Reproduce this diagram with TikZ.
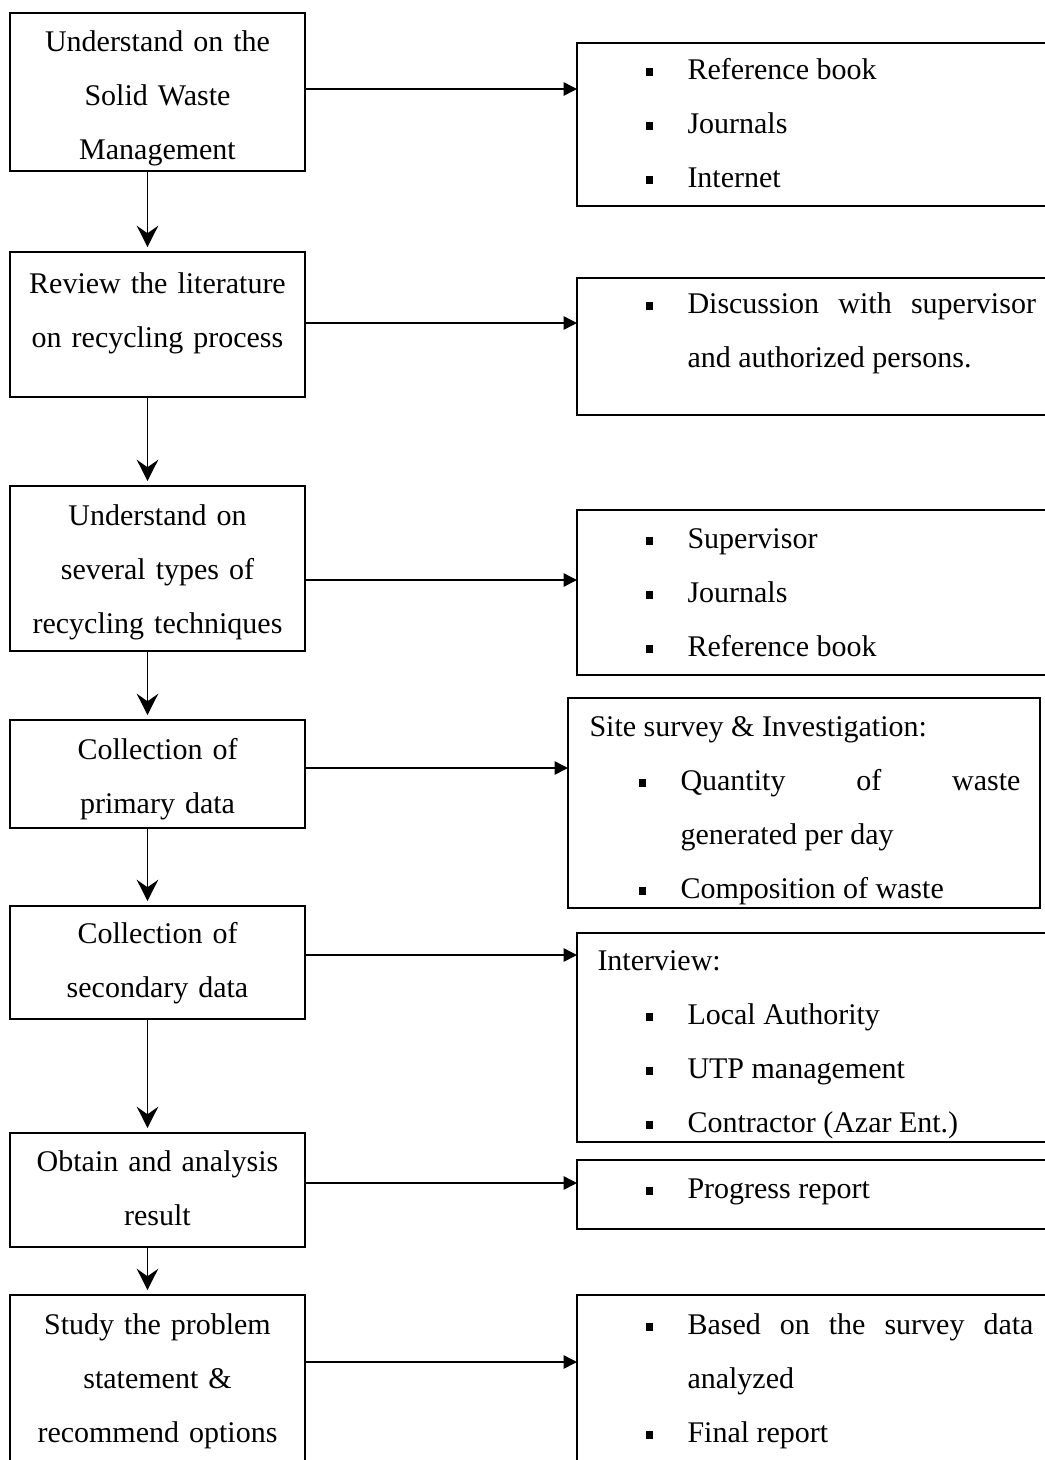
\documentclass[tikz,border=0pt]{standalone}
\usepackage{fontspec}
\setmainfont{Liberation Serif}
\usetikzlibrary{arrows.meta}

\newlength\bhang
\setlength\bhang{16.6pt}
\newcommand\sqbul{\rule[1.4pt]{2.8pt}{3pt}}
\newcommand\bitem[1]{\noindent\hangindent=\bhang\hangafter=1\makebox[\bhang][l]{\sqbul}#1\par}

\begin{document}
\begin{tikzpicture}[x=0.4pt, y=-0.4pt,
  lbox/.style={draw, line width=0.8pt, inner sep=0pt, outer sep=0pt, minimum width=118pt},
  rbox/.style={draw, line width=0.8pt, inner sep=0pt, outer sep=0pt, minimum width=191.2pt},
  ltext/.style={anchor=base, text width=116pt, align=center, inner sep=0pt, font=\fontsize{12pt}{21.6pt}\selectfont},
  rtext/.style={anchor=base west, text width=156pt, align=justify, inner sep=0pt, font=\fontsize{12pt}{21.6pt}\selectfont},
  head/.style={anchor=base west, inner sep=0pt, font=\fontsize{12pt}{21.6pt}\selectfont},
  varrow/.style={-{Stealth[length=8.5pt, width=8.6pt, inset=3pt]}, line width=0.7pt, shorten >=2pt},
  harrow/.style={-{Triangle[length=5.4pt, width=5.4pt]}, line width=0.6pt}]

  \useasboundingbox (0,0) rectangle (1045,1460);
  \clip (0,0) rectangle (1045,1460);

  % Nodes (left column)
  \node[lbox, minimum height=63.2pt] (l1) at (157.5,92) {};
  \node[lbox, minimum height=58pt] (l2) at (157.5,324.5) {};
  \node[lbox, minimum height=66pt] (l3) at (157.5,568.5) {};
  \node[lbox, minimum height=43.2pt] (l4) at (157.5,774) {};
  \node[lbox, minimum height=45.2pt] (l5) at (157.5,962.5) {};
  \node[lbox, minimum height=45.6pt] (l6) at (157.5,1190) {};
  \node[lbox, minimum height=72pt] (l7) at (157.5,1385) {};

  \node[ltext] (tl1) at (157.5,51) {Understand on the\\Solid Waste\\Management};
  \node[ltext] (tl2) at (157.5,293) {Review the literature\\on recycling process};
  \node[ltext] (tl3) at (157.5,525) {Understand on\\several types of\\recycling techniques};
  \node[ltext] (tl4) at (157.5,759) {Collection of\\primary data};
  \node[ltext] (tl5) at (157.5,943) {Collection of\\secondary data};
  \node[ltext] (tl6) at (157.5,1171) {Obtain and analysis\\result};
  \node[ltext] (tl7) at (157.5,1334) {Study the problem\\statement \&\\recommend options};

  % Nodes (right column)
  \node[rbox, minimum height=65.2pt] (r1) at (816,124.5) {};
  \node[rbox, minimum height=54.8pt] (r2) at (816,346.5) {};
  \node[rbox, minimum height=66pt] (r3) at (816,592.5) {};
  \node[rbox, minimum width=188.8pt, minimum height=84pt] (r4) at (804,803) {};
  \node[rbox, minimum height=83.6pt] (r5) at (816,1037.5) {};
  \node[rbox, minimum height=27.6pt] (r6) at (816,1194.5) {};
  \node[rbox, minimum height=72pt] (r7) at (816,1385) {};

  \node[rtext] (tr1) at (645.5,79) {\bitem{Reference book}\bitem{Journals}\bitem{Internet}};
  \node[rtext] (tr2) at (645.5,313) {\bitem{Discussion with supervisor\linebreak and authorized persons.}};
  \node[rtext] (tr3) at (645.5,548) {\bitem{Supervisor}\bitem{Journals}\bitem{Reference book}};
  \node[head] (hr4) at (589,736) {Site survey \& Investigation:};
  \node[rtext, text width=152.6pt] (tr4) at (638.5,790) {\bitem{Quantity of waste\linebreak generated per day}\bitem{Composition of waste}};
  \node[head] (hr5) at (597,970) {Interview:};
  \node[rtext] (tr5) at (645.5,1024) {\bitem{Local Authority}\bitem{UTP management}\bitem{Contractor (Azar Ent.)}};
  \node[rtext] (tr6) at (645.5,1198) {\bitem{Progress report}};
  \node[rtext, text width=155pt] (tr7) at (645.5,1334) {\bitem{Based on the survey data\linebreak analyzed}\bitem{Final report}};

  % Arrow levels
  \coordinate (h1) at (0,89);
  \coordinate (h2) at (0,323);
  \coordinate (h3) at (0,580);
  \coordinate (h4) at (0,768);
  \coordinate (h5) at (0,955);
  \coordinate (h6) at (0,1183);
  \coordinate (h7) at (0,1362);

  % Arrows
  \draw[varrow] ([xshift=-4pt]l1.south) -- ([xshift=-4pt]l2.north);
  \draw[varrow] ([xshift=-4pt]l2.south) -- ([xshift=-4pt]l3.north);
  \draw[varrow] ([xshift=-4pt]l3.south) -- ([xshift=-4pt]l4.north);
  \draw[varrow] ([xshift=-4pt]l4.south) -- ([xshift=-4pt]l5.north);
  \draw[varrow] ([xshift=-4pt]l5.south) -- ([xshift=-4pt]l6.north);
  \draw[varrow] ([xshift=-4pt]l6.south) -- ([xshift=-4pt]l7.north);

  \draw[harrow] (l1.east |- h1) -- (r1.west |- h1);
  \draw[harrow] (l2.east |- h2) -- (r2.west |- h2);
  \draw[harrow] (l3.east |- h3) -- (r3.west |- h3);
  \draw[harrow] (l4.east |- h4) -- (r4.west |- h4);
  \draw[harrow] (l5.east |- h5) -- (r5.west |- h5);
  \draw[harrow] (l6.east |- h6) -- (r6.west |- h6);
  \draw[harrow] (l7.east |- h7) -- (r7.west |- h7);

\end{tikzpicture}
\end{document}
